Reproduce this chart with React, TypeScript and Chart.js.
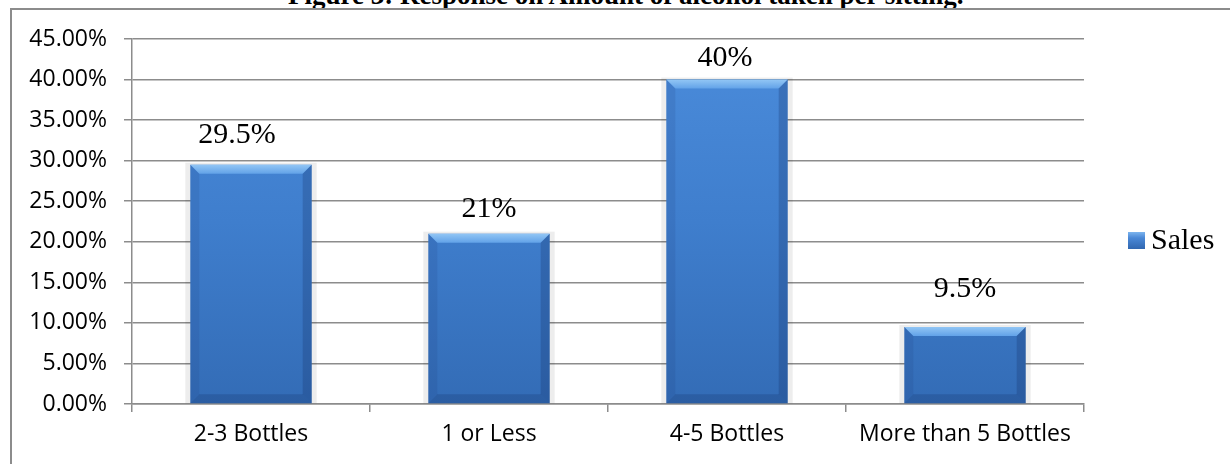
import { useEffect, useRef } from 'react';
import { Chart, registerables } from 'chart.js';

Chart.register(...registerables);

// Survey responses: amount of alcohol taken per sitting
const categories = ['2-3 Bottles', '1 or Less', '4-5 Bottles', 'More than 5 Bottles'];
const salesValues = [29.5, 21, 40, 9.5];
const seriesName = 'Sales';
const yAxisMax = 45;
const yAxisStep = 5;
const titleText = 'Figure 3: Response on Amount of alcohol taken per sitting.';

const GRID = '#8c8c8c';

// soft grey halo behind each bar
const barHalo = {
  id: 'barHalo',
  beforeDatasetsDraw(chart: any) {
    const c = chart.ctx;
    const meta = chart.getDatasetMeta(0);
    c.save();
    c.fillStyle = 'rgba(0,0,0,0.07)';
    meta.data.forEach((bar: any) => {
      const { x, y, base, width } = bar.getProps(['x', 'y', 'base', 'width'], true);
      c.fillRect(x - width / 2 - 5, y - 2, width + 10, base - y + 2);
    });
    c.restore();
  },
};

// bevelled edges on the bars
const barBevel = {
  id: 'barBevel',
  afterDatasetsDraw(chart: any) {
    const c = chart.ctx;
    const meta = chart.getDatasetMeta(0);
    const b = 9;
    c.save();
    meta.data.forEach((bar: any) => {
      const { x, y, base, width } = bar.getProps(['x', 'y', 'base', 'width'], true);
      const l = x - width / 2;
      const r = x + width / 2;
      const t = y;
      const btm = base;
      // top light bevel
      const tg = c.createLinearGradient(0, t, 0, t + b);
      tg.addColorStop(0, '#92c6f5');
      tg.addColorStop(1, '#62a2e8');
      c.fillStyle = tg;
      c.beginPath();
      c.moveTo(l, t);
      c.lineTo(r, t);
      c.lineTo(r - b, t + b);
      c.lineTo(l + b, t + b);
      c.closePath();
      c.fill();
      // left bevel
      c.fillStyle = 'rgba(25,60,120,0.14)';
      c.beginPath();
      c.moveTo(l, t);
      c.lineTo(l + b, t + b);
      c.lineTo(l + b, btm - b);
      c.lineTo(l, btm);
      c.closePath();
      c.fill();
      // right bevel
      c.fillStyle = 'rgba(20,45,100,0.26)';
      c.beginPath();
      c.moveTo(r, t);
      c.lineTo(r - b, t + b);
      c.lineTo(r - b, btm - b);
      c.lineTo(r, btm);
      c.closePath();
      c.fill();
      // bottom bevel
      c.fillStyle = 'rgba(20,45,100,0.24)';
      c.beginPath();
      c.moveTo(l, btm);
      c.lineTo(l + b, btm - b);
      c.lineTo(r - b, btm - b);
      c.lineTo(r, btm);
      c.closePath();
      c.fill();
    });
    c.restore();
  },
};

// value labels above the bars
const valueLabels = {
  id: 'valueLabels',
  afterDatasetsDraw(chart: any, _args: any, opts: any) {
    const c = chart.ctx;
    const meta = chart.getDatasetMeta(0);
    const data = chart.data.datasets[0].data as number[];
    c.save();
    c.font = '30px "Liberation Serif"';
    c.fillStyle = '#000';
    c.textAlign = 'center';
    c.textBaseline = 'alphabetic';
    meta.data.forEach((bar: any, i: number) => {
      const gap = opts.gaps?.[i] ?? 18;
      const dx = opts.shifts?.[i] ?? 0;
      c.fillText(`${data[i]}%`, bar.x + dx, bar.y - gap);
    });
    c.restore();
  },
};

// legend on the right side
const sideLegend = {
  id: 'sideLegend',
  afterDraw(chart: any) {
    const c = chart.ctx;
    const ca = chart.chartArea;
    const mx = ca.right + 44;
    const my = 232;
    const s = 17;
    c.save();
    const g = c.createLinearGradient(0, my, 0, my + s);
    g.addColorStop(0, '#7cb4ee');
    g.addColorStop(0.35, '#4a88d6');
    g.addColorStop(1, '#3167b0');
    c.fillStyle = g;
    c.fillRect(mx, my, s, s);
    c.font = '30px "Liberation Serif"';
    c.fillStyle = '#000';
    c.textAlign = 'left';
    c.textBaseline = 'alphabetic';
    c.fillText(chart.data.datasets[0].label, mx + 23, my + s);
    c.restore();
  },
};

export default function App() {
  const ref = useRef<HTMLCanvasElement>(null);

  useEffect(() => {
    document.body.style.margin = '0';
    const chart = new Chart(ref.current!, {
      type: 'bar',
      data: {
        labels: categories,
        datasets: [
          {
            label: seriesName,
            data: salesValues,
            categoryPercentage: 1,
            barPercentage: 0.51,
            backgroundColor: (ctx: any) => {
              const ca = ctx.chart.chartArea;
              if (!ca) return '#3c7bcc';
              const g = ctx.chart.ctx.createLinearGradient(0, ca.top, 0, ca.bottom);
              g.addColorStop(0, '#4b8cdb');
              g.addColorStop(0.5, '#3f7ecd');
              g.addColorStop(1, '#336cb6');
              return g;
            },
            borderWidth: 0,
          },
        ],
      },
      options: {
        animation: false,
        responsive: false,
        maintainAspectRatio: false,
        layout: { padding: { top: 39, right: 146, bottom: 0, left: 0 } },
        plugins: {
          legend: { display: false },
          tooltip: { enabled: false },
          valueLabels: { gaps: [22, 17, 14, 30], shifts: [-14, 0, -2, 0] },
        } as any,
        scales: {
          x: {
            grid: {
              offset: true,
              drawOnChartArea: false,
              drawTicks: true,
              tickLength: 8,
              color: GRID,
              lineWidth: 1.5,
            },
            border: { display: true, color: GRID, width: 1.5 },
            ticks: {
              font: { family: '"Open Sans"', size: 23 },
              color: '#000',
              padding: 9,
              maxRotation: 0,
              autoSkip: false,
            },
            afterFit: (s: any) => {
              s.height = 60;
            },
          },
          y: {
            min: 0,
            max: yAxisMax,
            grid: {
              color: GRID,
              lineWidth: 1.5,
              drawTicks: true,
              tickLength: 8,
            },
            border: { display: true, color: GRID, width: 1.5 },
            ticks: {
              stepSize: yAxisStep,
              font: { family: '"Open Sans"', size: 23 },
              color: '#000',
              padding: 17,
              callback: (v: any) => Number(v).toFixed(2) + '%',
            },
            afterFit: (s: any) => {
              s.width = 132;
            },
          },
        },
      },
      plugins: [barHalo, barBevel, valueLabels, sideLegend],
    });
    return () => chart.destroy();
  }, []);

  return (
    <div
      style={{
        position: 'fixed',
        left: 0,
        top: 0,
        width: 1230,
        height: 464,
        overflow: 'hidden',
        background: '#fff',
      }}
    >
      <div
        style={{
          position: 'absolute',
          left: 288,
          top: -20,
          font: 'bold 27px "Liberation Serif"',
          lineHeight: '30px',
          whiteSpace: 'nowrap',
          color: '#000',
        }}
      >
        {titleText}
      </div>
      <div
        style={{
          position: 'absolute',
          left: 10,
          top: 8,
          width: 1400,
          height: 600,
          border: '2px solid #8c8c8c',
          boxSizing: 'border-box',
        }}
      />
      <canvas
        ref={ref}
        width={1230}
        height={464}
        style={{ position: 'absolute', left: 0, top: 0 }}
      />
    </div>
  );
}
